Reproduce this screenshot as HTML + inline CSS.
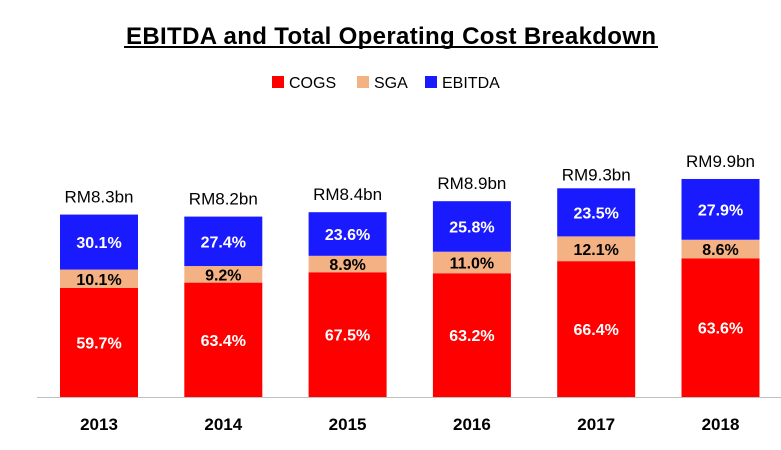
<!DOCTYPE html>
<html><head><meta charset="utf-8">
<style>
body{margin:0;background:#fff;}
svg{display:block;font-family:"Liberation Sans",Arial,sans-serif;}
</style></head>
<body>
<svg id="chart" width="781" height="450" viewBox="0 0 781 450">
  <text x="391" y="44" text-anchor="middle" font-size="24" font-weight="bold" textLength="530" lengthAdjust="spacing">EBITDA and Total Operating Cost Breakdown</text>
  <line x1="124" y1="47" x2="658" y2="47" stroke="#000" stroke-width="2"/>
  <g>
    <g><rect x="272" y="76" width="12" height="12" fill="#ff0000"/><text x="289" y="88" font-size="16">COGS</text></g>
    <g><rect x="357" y="76" width="12" height="12" fill="#f4b183"/><text x="374" y="88" font-size="16">SGA</text></g>
    <g><rect x="425" y="76" width="12" height="12" fill="#1a1aff"/><text x="442" y="88" font-size="16">EBITDA</text></g>
  </g>
  <line x1="37" y1="397.5" x2="781" y2="397.5" stroke="#bfbfbf" stroke-width="1"/>
  <g id="bars"></g>
</svg>
<script>
const years = ["2013","2014","2015","2016","2017","2018"];
const totals = [8.3,8.2,8.4,8.9,9.3,9.9];
const cogs = [59.7,63.4,67.5,63.2,66.4,63.6];
const sga = [10.1,9.2,8.9,11.0,12.1,8.6];
const ebitda = [30.1,27.4,23.6,25.8,23.5,27.9];

const NS="http://www.w3.org/2000/svg";
const g=document.getElementById("bars");
const base=397, k=22.0, x0=99, step=124.3, bw=78;
const xPos=i=>x0+i*step;
const hOf=v=>v*k;
function mk(tag,attrs){const e=document.createElementNS(NS,tag);for(const a in attrs)e.setAttribute(a,attrs[a]);g.appendChild(e);return e;}
const series=[{vals:cogs,color:"#ff0000",tc:"#fff",n:"cogs"},{vals:sga,color:"#f4b183",tc:"#000",n:"sga"},{vals:ebitda,color:"#1a1aff",tc:"#fff",n:"ebitda"}];
years.forEach((yr,i)=>{
  const cx=xPos(i), H=hOf(totals[i]);
  let y=base;
  series.forEach(s=>{
    const h=H*s.vals[i]/100;
    y-=h;
    const r=mk("rect",{x:cx-bw/2,y:y,width:bw,height:h,fill:s.color});
    
    
    const t=mk("text",{x:cx,y:y+h/2+6,"text-anchor":"middle","font-size":"16","font-weight":"bold",fill:s.tc});
    t.textContent=s.vals[i].toFixed(1)+"%";
    
    
  });
  const tt=mk("text",{x:cx,y:base-H-12,"text-anchor":"middle","font-size":"17"});
  tt.textContent="RM"+totals[i].toFixed(1)+"bn";
  
  
  const yl=mk("text",{x:cx,y:430,"text-anchor":"middle","font-size":"17","font-weight":"bold"});
  yl.textContent=yr;
  
  
});
</script>
</body></html>
